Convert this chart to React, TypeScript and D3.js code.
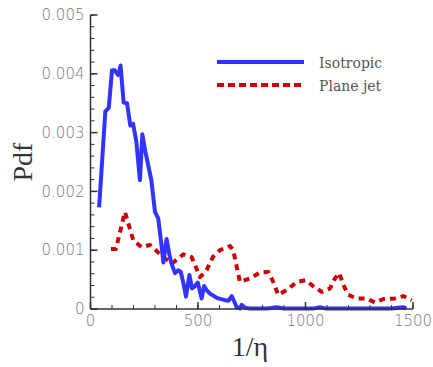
import React from "react";
import * as d3 from "d3";

const isoX = [40, 69, 85, 100, 113, 128, 133, 140, 154, 170, 185, 198, 213, 230, 241, 255, 283, 300, 315, 331, 339, 354, 367, 376, 393, 408, 420, 432, 444, 460, 472, 483, 499, 517, 528, 540, 556, 579, 594, 626, 641, 657, 667, 680, 695, 703, 719, 740, 780, 820, 866, 900, 950, 1000, 1040, 1067, 1090, 1150, 1200, 1250, 1300, 1350, 1400, 1453, 1470];
const isoY = [0.00173, 0.00336, 0.00342, 0.00406, 0.00406, 0.00398, 0.00403, 0.00414, 0.00351, 0.0035, 0.00312, 0.00315, 0.00285, 0.00219, 0.00297, 0.00268, 0.00219, 0.00165, 0.00154, 0.00106, 0.00079, 0.00119, 0.00092, 0.00078, 0.00061, 0.00066, 0.00063, 0.00044, 0.00021, 0.00058, 0.00035, 0.00038, 0.00045, 0.00018, 0.00039, 0.00032, 0.00026, 0.00021, 0.00018, 0.00015, 0.00014, 0.00022, 0.00014, 0.00003, 0.00001, 0.00007, 0.00002, 0.00001, 0.00001, 0.00001, 0.00003, 0.00001, 0.00001, 0.00001, 0.00001, 0.00003, 0.00001, 0.00001, 0.00001, 0.00001, 0.00001, 0.00001, 0.00001, 0.00003, 0.00001];

const jetX = [95, 118, 160, 199, 238, 277, 339, 378, 432, 471, 509, 540, 570, 602, 649, 664, 680, 695, 742, 788, 827, 850, 873, 912, 959, 1000, 1036, 1075, 1114, 1137, 1157, 1176, 1199, 1238, 1285, 1323, 1362, 1416, 1455, 1494];
const jetY = [0.00102, 0.00102, 0.00165, 0.00117, 0.00105, 0.00109, 0.00088, 0.00077, 0.00093, 0.00088, 0.00054, 0.00066, 0.00089, 0.001, 0.00107, 0.001, 0.00072, 0.00046, 0.00052, 0.00062, 0.00063, 0.00046, 0.00024, 0.00032, 0.00046, 0.00049, 0.00039, 0.00029, 0.00035, 0.00052, 0.00061, 0.00041, 0.00024, 0.00018, 0.00018, 0.00011, 0.00017, 0.00018, 0.00022, 0.00015];

const yTicks = [0, 0.001, 0.002, 0.003, 0.004, 0.005];
const yTickLabels = ["0", "0.001", "0.002", "0.003", "0.004", "0.005"];
const xTicks = [0, 500, 1000, 1500];
const xTickLabels = ["0", "500", "1000", "1500"];
const seriesNames = ["Isotropic", "Plane jet"];

const W = 433, H = 367;
const x = d3.scaleLinear().domain([0, 1500]).range([90.5, 413]);
const y = d3.scaleLinear().domain([0, 0.005]).range([309, 15]);

export default function App() {
  const line = d3.line<[number, number]>().x(d => x(d[0])).y(d => y(d[1]));
  const iso = isoX.map((v, i) => [v, isoY[i]] as [number, number]);
  const jet = jetX.map((v, i) => [v, jetY[i]] as [number, number]);
  const yMinor = d3.range(0, 0.00501, 0.0002);
  const xMinor = d3.range(0, 1501, 100);
  const axisColor = "#333";
  const tickFont = "DejaVu Sans";
  return (
    <svg width={W} height={H} style={{ position: "absolute", left: 0, top: 0, background: "#fff" }}>
      <path d={line(jet) || ""} fill="none" stroke="#cc0000" strokeWidth={4} strokeDasharray="6 5" strokeLinejoin="round" />
      <path d={line(iso) || ""} fill="none" stroke="#3333ff" strokeWidth={4} strokeLinejoin="round" />
      <line x1={x(0)} x2={x(0)} y1={y(0.005)} y2={y(0)} stroke={axisColor} strokeWidth={1.5} />
      <line x1={x(0)} x2={x(1500)} y1={y(0)} y2={y(0)} stroke={axisColor} strokeWidth={1.5} />
      {yMinor.map((t, i) => (
        <line key={"ym" + i} x1={x(0)} x2={x(0) + 4} y1={y(t)} y2={y(t)} stroke={axisColor} strokeWidth={1} />
      ))}
      {yTicks.map((t, i) => (
        <line key={"yM" + i} x1={x(0)} x2={x(0) + 7} y1={y(t)} y2={y(t)} stroke={axisColor} strokeWidth={1.5} />
      ))}
      {xMinor.map((t, i) => (
        <line key={"xm" + i} x1={x(t)} x2={x(t)} y1={y(0)} y2={y(0) - 4} stroke={axisColor} strokeWidth={1} />
      ))}
      {xTicks.map((t, i) => (
        <line key={"xM" + i} x1={x(t)} x2={x(t)} y1={y(0)} y2={y(0) - 7} stroke={axisColor} strokeWidth={1.5} />
      ))}
      {yTicks.map((t, i) => (
        <text key={"yl" + i} x={x(0) - 6} y={y(t)} dy="0.35em" textAnchor="end" fontFamily={tickFont} fontWeight={200} fontSize={15} fill="#777">{yTickLabels[i]}</text>
      ))}
      {xTicks.map((t, i) => (
        <text key={"xl" + i} x={x(t)} y={y(0) + 12} dy="0.35em" textAnchor="middle" fontFamily={tickFont} fontWeight={200} fontSize={15} fill="#777">{xTickLabels[i]}</text>
      ))}
      <text transform={`translate(${32},${162}) rotate(-90)`} textAnchor="middle" fontFamily="Liberation Serif" fontSize={28} fill="#333">Pdf</text>
      <text x={250} y={356} textAnchor="middle" fontFamily="Liberation Serif" fontSize={28} fill="#333">1/η</text>
      <line x1={217} x2={304} y1={62} y2={62} stroke="#3333ff" strokeWidth={4} />
      <line x1={217} x2={304} y1={85} y2={85} stroke="#cc0000" strokeWidth={4} strokeDasharray="7 4" />
      <text x={319} y={68} fontFamily="DejaVu Serif" fontSize={14} fill="#555">{seriesNames[0]}</text>
      <text x={319} y={91} fontFamily="DejaVu Serif" fontSize={14} fill="#555">{seriesNames[1]}</text>
    </svg>
  );
}
